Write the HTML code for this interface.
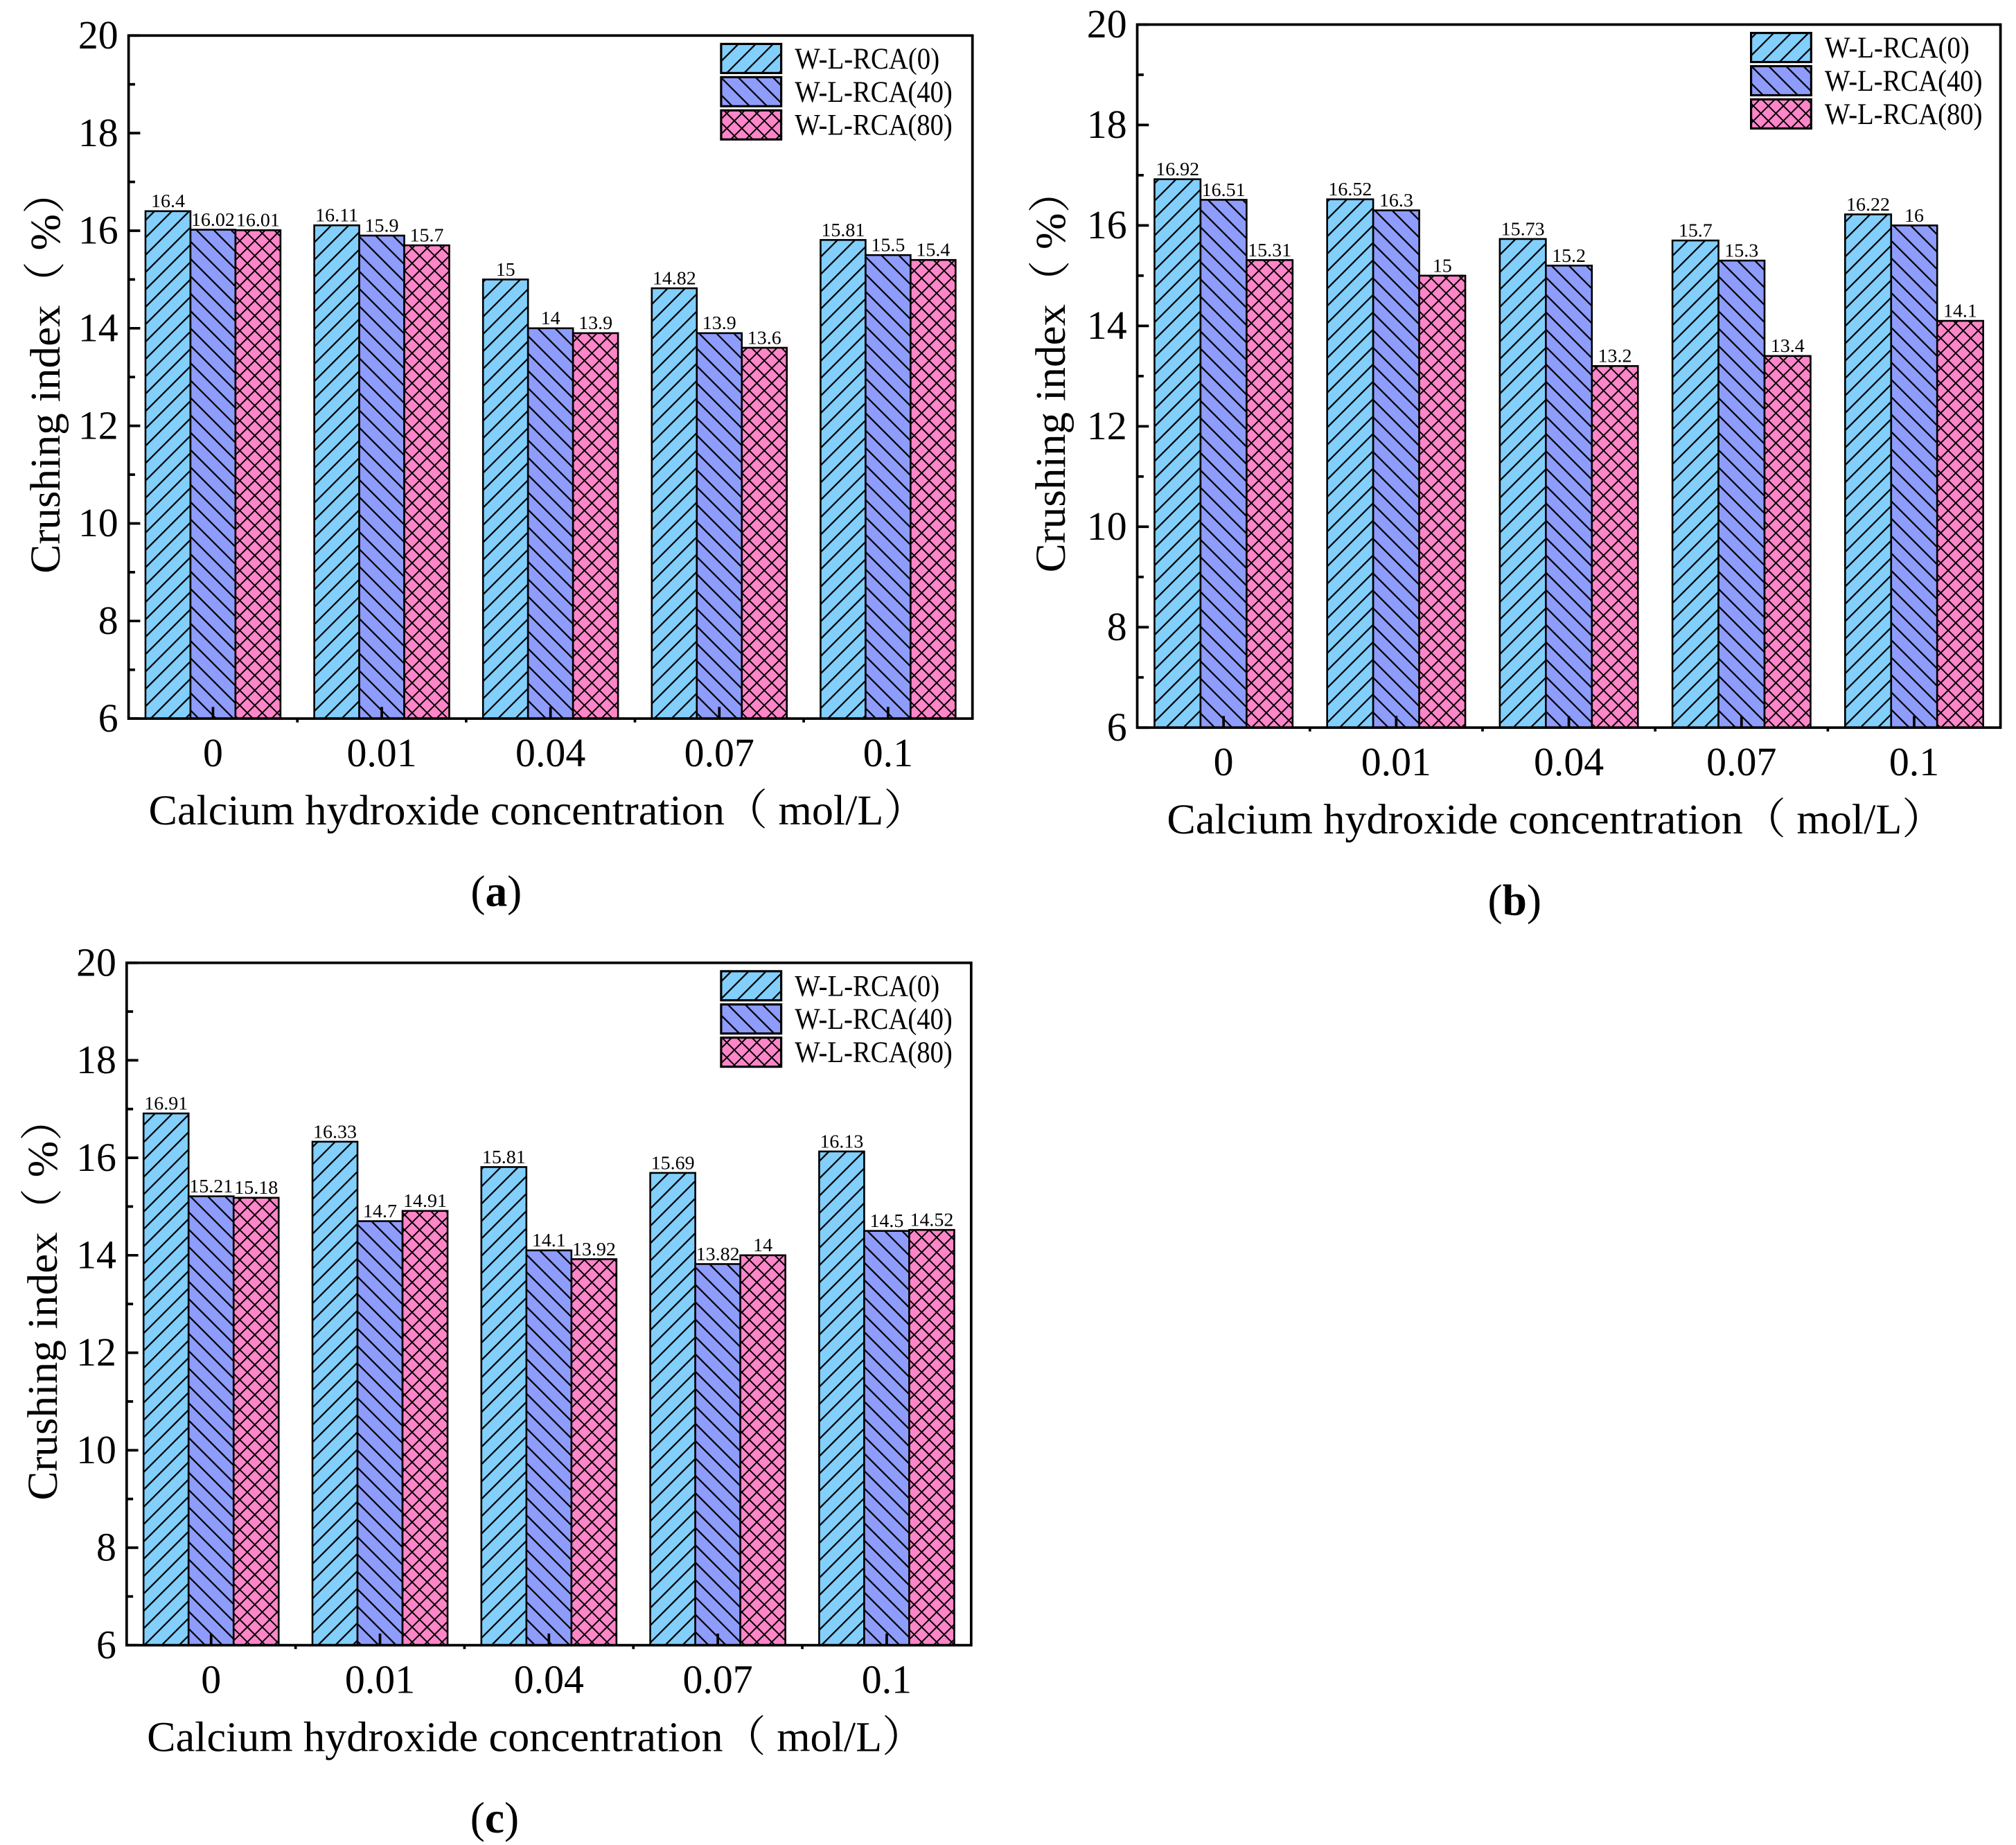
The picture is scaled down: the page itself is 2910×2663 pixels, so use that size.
<!DOCTYPE html>
<html><head><meta charset="utf-8"><style>
html,body{margin:0;padding:0;background:#fff;}
svg{display:block;}
text{font-family:"Liberation Serif","Noto Serif CJK SC",serif;fill:#000;}
</style></head>
<body>
<svg id="fig" width="2910" height="2663" viewBox="0 0 1560 1427.6" xmlns="http://www.w3.org/2000/svg">
<defs>
<pattern id="hatchFwd" patternUnits="userSpaceOnUse" width="9.5" height="9.5" patternTransform="rotate(45)">
<rect width="9.5" height="9.5" fill="#82CFFC"/><line x1="0" y1="0" x2="0" y2="9.5" stroke="#000" stroke-width="2.4"/></pattern>
<pattern id="hatchBack" patternUnits="userSpaceOnUse" width="9.5" height="9.5" patternTransform="rotate(-45)">
<rect width="9.5" height="9.5" fill="#8E9CFB"/><line x1="0" y1="0" x2="0" y2="9.5" stroke="#000" stroke-width="2.4"/></pattern>
<pattern id="hatchCross" patternUnits="userSpaceOnUse" width="8.2" height="8.2" patternTransform="rotate(45)">
<rect width="8.2" height="8.2" fill="#FD85C8"/><line x1="0" y1="0" x2="0" y2="8.2" stroke="#000" stroke-width="2.1"/><line x1="0" y1="0" x2="8.2" y2="0" stroke="#000" stroke-width="2.1"/></pattern>
</defs>
</svg>
<script>
const categories = ["0","0.01","0.04","0.07","0.1"];
const seriesNames = ["W-L-RCA(0)","W-L-RCA(40)","W-L-RCA(80)"];
const yTicks = [6,8,10,12,14,16,18,20];
const aS0 = [16.4,16.11,15,14.82,15.81];
const aS1 = [16.02,15.9,14,13.9,15.5];
const aS2 = [16.01,15.7,13.9,13.6,15.4];
const bS0 = [16.92,16.52,15.73,15.7,16.22];
const bS1 = [16.51,16.3,15.2,15.3,16];
const bS2 = [15.31,15,13.2,13.4,14.1];
const cS0 = [16.91,16.33,15.81,15.69,16.13];
const cS1 = [15.21,14.7,14.1,13.82,14.5];
const cS2 = [15.18,14.91,13.92,14,14.52];

const NS = "http://www.w3.org/2000/svg";
const fig = document.getElementById('fig');
const fills = ["url(#hatchFwd)","url(#hatchBack)","url(#hatchCross)"];
function mk(tag, attrs, parent){const e=document.createElementNS(NS,tag);for(const k in attrs)e.setAttribute(k,attrs[k]);(parent||fig).appendChild(e);return e;}

function panel(id, L, R, T, B, series, legX, legY, letter, ttlX){
  const g = mk('g',{});
  
  
  const yMin=6,yMax=20;
  const y = v => B - (v-yMin)/(yMax-yMin)*(B-T);
  const step=(R-L)/categories.length;
  const bw=step*0.8/3;
  const cx = i => L + step*(i+0.5);
  series.forEach((arr,s)=>{
    arr.forEach((v,i)=>{
      const x0=cx(i)-1.5*bw+s*bw;
      const r=mk('rect',{x:x0,y:y(v),width:bw,height:B-y(v),fill:fills[s],stroke:'#000','stroke-width':1.4},g);
      
      
      const t=mk('text',{x:x0+bw/2,y:y(v)-3,'font-size':15,'text-anchor':'middle'},g);
      t.textContent=String(v);
      
      
    });
  });
  const fr=mk('rect',{x:L,y:T,width:R-L,height:B-T,fill:'none',stroke:'#000','stroke-width':2},g);
  
  
  yTicks.forEach(v=>{
    mk('line',{x1:L,x2:L+9,y1:y(v),y2:y(v),stroke:'#000','stroke-width':2},g);
    if(v<yMax) mk('line',{x1:L,x2:L+5,y1:y(v+1),y2:y(v+1),stroke:'#000','stroke-width':2},g);
    const t=mk('text',{x:L-8,y:y(v)+10,'font-size':31,'text-anchor':'end'},g);
    t.textContent=String(v);
    
    
  });
  categories.forEach((c,i)=>{
    mk('line',{x1:cx(i),x2:cx(i),y1:B,y2:B-9,stroke:'#000','stroke-width':2},g);
    if(i>0) mk('line',{x1:L+step*i,x2:L+step*i,y1:B,y2:B+3,stroke:'#000','stroke-width':2},g);
    const t=mk('text',{x:cx(i),y:B+37,'font-size':31,'text-anchor':'middle'},g);
    t.textContent=c;
    
    
  });
  const xt=mk('text',{x:(L+R)/2-10,y:B+82,'font-size':33,'text-anchor':'middle',textLength:602,lengthAdjust:'spacingAndGlyphs'},g);
  xt.textContent='Calcium hydroxide concentration（ mol/L）';
  
  
  const ymid=(T+B)/2-4;
  const yt=mk('text',{x:0,y:0,'font-size':33,'text-anchor':'middle',textLength:312,lengthAdjust:'spacingAndGlyphs',transform:`translate(${ttlX},${ymid}) rotate(-90)`},g);
  yt.textContent='Crushing index（ %）';
  
  
  seriesNames.forEach((n,s)=>{
    const ly=legY+s*25.7;
    const r=mk('rect',{x:legX,y:ly,width:46.5,height:22.5,fill:fills[s],stroke:'#000','stroke-width':1.7},g);
    
    
    const t=mk('text',{x:legX+57,y:ly+19,'font-size':23,textLength:s==0?112:122,lengthAdjust:'spacingAndGlyphs'},g);
    t.textContent=n;
    
    
  });
  const pl=mk('text',{x:(L+R)/2-42,y:B+145,'font-size':34,'text-anchor':'middle'},g);
  pl.innerHTML='(<tspan font-weight="bold">'+letter+'</tspan>)';
  
  
}
panel('a', 99.5, 752.5, 27.5, 556, [aS0,aS1,aS2], 558, 34, 'a', 46);
panel('b', 880, 1548, 19, 563, [bS0,bS1,bS2], 1355, 25.5, 'b', 824);
panel('c', 98, 751.5, 745, 1273, [cS0,cS1,cS2], 558, 751.5, 'c', 44);
</script>
</body></html>
